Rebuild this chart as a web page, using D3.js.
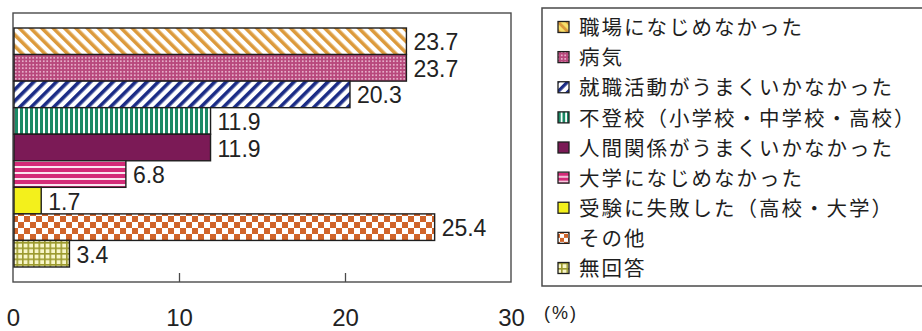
<!DOCTYPE html>
<html>
<head>
<meta charset="utf-8">
<script src="https://cdn.jsdelivr.net/npm/d3@7"></script>
<style>
  html, body { margin: 0; padding: 0; background: #fff; }
  svg { display: block; }
</style>
</head>
<body>
<div id="chart"></div>
<script>
// Data
const categories = [
    "職場になじめなかった",
    "病気",
    "就職活動がうまくいかなかった",
    "不登校（小学校・中学校・高校）",
    "人間関係がうまくいかなかった",
    "大学になじめなかった",
    "受験に失敗した（高校・大学）",
    "その他",
    "無回答"
];
const values = [23.7, 23.7, 20.3, 11.9, 11.9, 6.8, 1.7, 25.4, 3.4];
const tickValues = [0, 10, 20, 30];
const unitLabel = "(%)";

// fill for each category (pattern ids / solid colours)
const fills = ["url(#p-diag-gold)", "url(#p-dots)", "url(#p-diag-navy)", "url(#p-vert)",
    "#7b1a56", "url(#p-horiz)", "#f3f01c", "url(#p-check)", "url(#p-grid)"];
const swatchFills = ["url(#s-diag-gold)", "url(#p-dots)", "url(#s-diag-navy)", "url(#s-vert)",
    "#7b1a56", "url(#s-horiz)", "#f3f01c", "url(#s-check)", "url(#p-grid)"];

const W = 922, H = 331;
const plot = { left: 13, right: 511, top: 13, bottom: 282 };

const svg = d3.select("#chart").append("svg")
    .attr("width", W)
    .attr("height", H);

// -----------------------------
// Patterns
// -----------------------------
const defs = svg.append("defs");

function stripes(id, color, period, thick, angle, bg, scale) {
    const p = defs.append("pattern")
        .attr("id", id)
        .attr("patternUnits", "userSpaceOnUse")
        .attr("width", period).attr("height", period)
        .attr("patternTransform", `rotate(${angle}) scale(${scale || 1})`);
    p.append("rect").attr("width", period).attr("height", period).attr("fill", bg || "#fff");
    p.append("rect").attr("width", thick).attr("height", period).attr("fill", color);
    return p;
}

stripes("p-diag-gold", "#dc9a3c", 8, 3.6, -45);
stripes("s-diag-gold", "#dc9a3c", 8, 3.6, -45, "#f6e06a", 0.8);
stripes("p-diag-navy", "#1b2c86", 8, 3.6, 45);
stripes("s-diag-navy", "#1b2c86", 8, 3.6, 45, "#fff", 0.9);
stripes("p-vert", "#1c8a66", 5, 3, 0);
stripes("s-vert", "#1c8a66", 5, 3, 0, "#fff", 0.9);
stripes("p-horiz", "#d42b78", 6, 4, 90, "#fbe6f0");
stripes("s-horiz", "#d42b78", 6, 4, 90, "#fbe6f0", 0.8);

const dots = defs.append("pattern")
    .attr("id", "p-dots")
    .attr("patternUnits", "userSpaceOnUse")
    .attr("width", 3.5).attr("height", 3.5);
dots.append("rect").attr("width", 3.5).attr("height", 3.5).attr("fill", "#b8487c");
dots.append("circle").attr("cx", 1.75).attr("cy", 1.75).attr("r", 0.85).attr("fill", "#f6d2e4");

[["p-check", 12], ["s-check", 8]].forEach(([id, s]) => {
    const c = defs.append("pattern")
        .attr("id", id)
        .attr("patternUnits", "userSpaceOnUse")
        .attr("width", s).attr("height", s);
    c.append("rect").attr("width", s).attr("height", s).attr("fill", "#fff");
    c.append("rect").attr("width", s / 2).attr("height", s / 2).attr("fill", "#d0642a");
    c.append("rect").attr("x", s / 2).attr("y", s / 2).attr("width", s / 2).attr("height", s / 2).attr("fill", "#d0642a");
});

const grid = defs.append("pattern")
    .attr("id", "p-grid")
    .attr("patternUnits", "userSpaceOnUse")
    .attr("width", 5.5).attr("height", 5.5);
grid.append("rect").attr("width", 5.5).attr("height", 5.5).attr("fill", "#f8f6c8");
grid.append("rect").attr("width", 5.5).attr("height", 1.6).attr("fill", "#9c9a2e");
grid.append("rect").attr("width", 1.6).attr("height", 5.5).attr("fill", "#9c9a2e");

// -----------------------------
// Scales
// -----------------------------
const x = d3.scaleLinear().domain([0, 30]).range([plot.left, plot.right]);
const y = d3.scaleBand().domain(categories).range([28, 267]).padding(0);

// frame
svg.append("rect")
    .attr("x", plot.left).attr("y", plot.top)
    .attr("width", plot.right - plot.left)
    .attr("height", plot.bottom - plot.top)
    .attr("fill", "none")
    .attr("stroke", "#4a4a4a")
    .attr("stroke-width", 1.4);

// inner ticks on bottom edge
svg.append("g")
    .attr("transform", `translate(0,${plot.bottom})`)
    .call(d3.axisBottom(x).tickValues(tickValues.slice(1, -1)).tickSize(-9).tickFormat(""))
    .call(g => g.select(".domain").remove())
    .call(g => g.selectAll("line").attr("stroke", "#4a4a4a").attr("stroke-width", 1.3));

// tick labels
svg.append("g")
    .attr("transform", `translate(0,326)`)
    .call(d3.axisBottom(x).tickValues(tickValues).tickSize(0).tickPadding(0))
    .call(g => g.select(".domain").remove())
    .call(g => g.selectAll("text")
        .attr("y", 0).attr("dy", null)
        .attr("fill", "#222")
        .style("font-family", "'Liberation Sans', Arial, sans-serif")
        .style("font-size", "24px"));

svg.append("text")
    .attr("x", 544).attr("y", 319)
    .attr("fill", "#222")
    .style("font-family", "'Liberation Sans', Arial, sans-serif")
    .style("font-size", "18px")
    .style("letter-spacing", "2px")
    .text(unitLabel);

// bars
const rows = categories.map((c, i) => ({ cat: c, value: values[i], fill: fills[i] }));

svg.selectAll("rect.bar")
    .data(rows)
    .enter()
    .append("rect")
    .attr("class", "bar")
    .attr("x", x(0) + 1)
    .attr("y", d => y(d.cat))
    .attr("width", d => x(d.value) - x(0) - 1)
    .attr("height", y.bandwidth())
    .attr("fill", d => d.fill)
    .attr("stroke", "#1e1e1e")
    .attr("stroke-width", 1.4);

svg.selectAll("text.val")
    .data(rows)
    .enter()
    .append("text")
    .attr("class", "val")
    .attr("x", d => x(d.value) + 7)
    .attr("y", d => y(d.cat) + y.bandwidth() / 2 + 9)
    .attr("fill", "#222")
    .style("font-family", "'Liberation Sans', Arial, sans-serif")
    .style("font-size", "23px")
    .text(d => d.value.toFixed(1));

// -----------------------------
// Legend
// -----------------------------
const legend = svg.append("g");
legend.append("rect")
    .attr("x", 542).attr("y", 8)
    .attr("width", 400).attr("height", 278)
    .attr("fill", "#fff")
    .attr("stroke", "#4a4a4a")
    .attr("stroke-width", 1.5);

const ly = d3.scalePoint().domain(categories).range([27, 268]);

const items = legend.selectAll("g.item")
    .data(categories)
    .enter()
    .append("g")
    .attr("class", "item")
    .attr("transform", d => `translate(0,${ly(d)})`);

items.append("rect")
    .attr("x", 558).attr("y", -5.5)
    .attr("width", 11).attr("height", 11)
    .attr("fill", (d, i) => swatchFills[i])
    .attr("stroke", "#1e1e1e")
    .attr("stroke-width", 1.3);

items.append("text")
    .attr("x", 579)
    .attr("dy", "0.4em")
    .attr("fill", "#1e1e1e")
    .style("font-family", "'Noto Sans CJK JP', sans-serif")
    .style("font-size", "20.5px")
    .style("letter-spacing", "2px")
    .text(d => d);
</script>
</body>
</html>
